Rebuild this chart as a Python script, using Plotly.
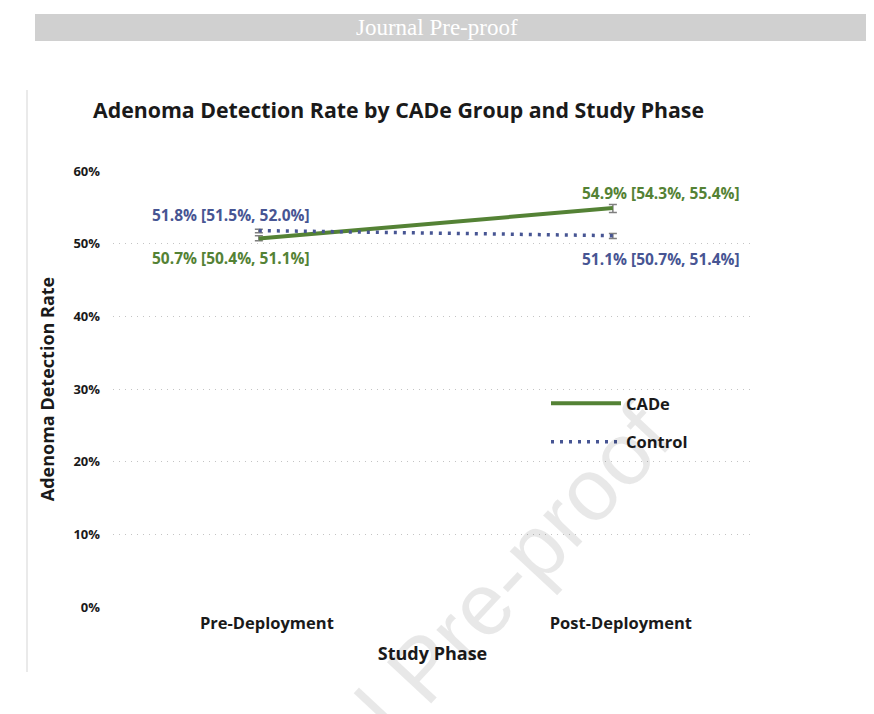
import plotly.graph_objects as go

phases = ["Pre-Deployment", "Post-Deployment"]
groups = ["CADe", "Control"]
cade_rate = [0.507, 0.549]
cade_lo = [0.504, 0.543]
cade_hi = [0.511, 0.554]
ctrl_rate = [0.518, 0.511]
ctrl_lo = [0.515, 0.507]
ctrl_hi = [0.520, 0.514]
y_ticks = [0, 0.1, 0.2, 0.3, 0.4, 0.5, 0.6]

GREEN = "#548235"
BLUE = "#475593"
FONT = "Open Sans"

# plot area in pixels (for paper-coordinate conversion)
PL, PR, PT, PB = 113, 752, 171, 607
def px(x):
    return (x - PL) / (PR - PL)
def py(y):
    return (PB - y) / (PB - PT)

xs = list(range(len(phases)))

fig = go.Figure()

def add_series(name, rate, lo, hi, color, dash, width):
    fig.add_trace(go.Scatter(
        x=xs, y=rate, name=name, mode="lines", legendgroup=name,
        line=dict(color=color, width=width, dash=dash),
        error_y=dict(type="data", symmetric=False,
                     array=[h - r for h, r in zip(hi, rate)],
                     arrayminus=[r - l for r, l in zip(rate, lo)],
                     color="#7f7f7f", thickness=1.5, width=4),
        hoverinfo="skip",
    ))

add_series(groups[0], cade_rate, cade_lo, cade_hi, GREEN, "solid", 4)
add_series(groups[1], ctrl_rate, ctrl_lo, ctrl_hi, BLUE, "3px,6px", 3.5)

def lab(r, l, h):
    return f"{r*100:.1f}% [{l*100:.1f}%, {h*100:.1f}%]"

annos = []
label_specs = [
    (0, ctrl_rate[0], ctrl_lo[0], ctrl_hi[0], BLUE, -28, 16),
    (0, cade_rate[0], cade_lo[0], cade_hi[0], GREEN, -28, -19),
    (1, cade_rate[1], cade_lo[1], cade_hi[1], GREEN, 48, 15),
    (1, ctrl_rate[1], ctrl_lo[1], ctrl_hi[1], BLUE, 48, -23),
]
for xi, r, l, h, c, dx, dy in label_specs:
    annos.append(dict(x=xi, y=r, xref="x", yref="y", text=lab(r, l, h),
                      showarrow=False, xshift=dx, yshift=dy,
                      font=dict(family=FONT, size=15.5, color=c, weight="bold")))

# header bar text
annos.append(dict(x=px(437), y=py(28), xref="paper", yref="paper",
                  xanchor="center", yanchor="middle",
                  text="Journal Pre-proof", showarrow=False,
                  font=dict(family="Liberation Serif", size=23, color="white")))
# watermark
annos.append(dict(x=px(422), y=py(668), xref="paper", yref="paper",
                  xanchor="center", yanchor="middle",
                  text="Journal Pre-proof", showarrow=False, textangle=-47,
                  font=dict(family="Liberation Sans", size=88, color="rgba(0,0,0,0.09)")))

fig.update_layout(
    width=874, height=714,
    margin=dict(l=PL, r=874 - PR, t=PT, b=714 - PB),
    paper_bgcolor="white", plot_bgcolor="rgba(0,0,0,0)",
    font=dict(family=FONT, color="#1a1a1a"),
    title=dict(text="<b>Adenoma Detection Rate by CADe Group and Study Phase</b>",
               x=93/874, xanchor="left", y=1 - 111/714, yanchor="middle",
               font=dict(family=FONT, size=21.3, color="#1a1a1a")),
    showlegend=True,
    legend=dict(x=px(546), y=py(386), xref="paper", yref="paper",
                xanchor="left", yanchor="top", traceorder="grouped",
                itemwidth=70, tracegroupgap=14,
                font=dict(family=FONT, size=16.5, color="#1a1a1a", weight="bold"),
                bgcolor="rgba(0,0,0,0)"),
    annotations=annos,
    shapes=[
        dict(type="rect", xref="paper", yref="paper",
             x0=px(35), x1=px(866), y0=py(14), y1=py(41),
             fillcolor="#d0d0d0", line=dict(width=0), layer="below"),
        dict(type="line", xref="paper", yref="paper",
             x0=px(27), x1=px(27), y0=py(90), y1=py(672),
             line=dict(color="#e3e3e3", width=1.5), layer="below"),
    ],
)

fig.update_xaxes(
    range=[-0.412, 1.393], tickvals=xs, ticktext=phases,
    showgrid=False, zeroline=False, showline=False, ticks="",
    ticklabelshift=8, ticklabelstandoff=4,
    tickfont=dict(family=FONT, size=16.5, color="#1a1a1a", weight="bold"),
    title=dict(text="Study Phase", standoff=14,
               font=dict(family=FONT, size=18, color="#1a1a1a", weight="bold")),
)
fig.update_yaxes(
    range=[0, 0.6], tickvals=y_ticks, tickformat=".0%",
    showgrid=True, gridcolor="#c4c4c4", griddash="1px,5px", gridwidth=1,
    zeroline=False, showline=False, ticks="", ticklabelstandoff=12,
    tickfont=dict(family=FONT, size=13, color="#1a1a1a", weight="bold"),
    title=dict(text="Adenoma Detection Rate", standoff=14,
               font=dict(family=FONT, size=18, color="#1a1a1a", weight="bold")),
)

fig.write_html("out.html")
